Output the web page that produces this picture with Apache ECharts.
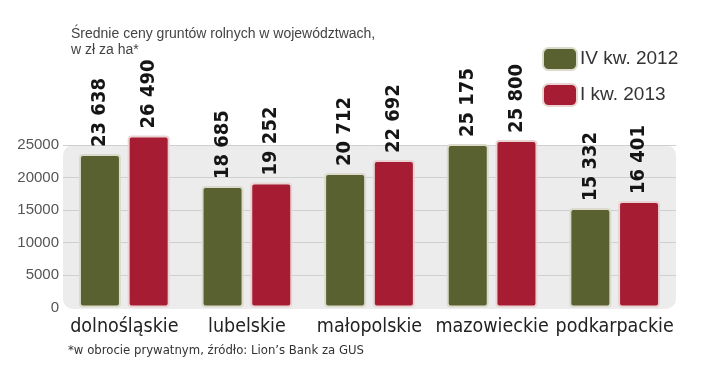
<!DOCTYPE html>
<html><head><meta charset="utf-8">
<script src="https://cdn.jsdelivr.net/npm/echarts@6/dist/echarts.min.js"></script>
<style>html,body{margin:0;padding:0;background:#fff}#c{width:720px;height:366px}</style>
</head><body><div id="c"></div>
<script>
var categories = ['dolnośląskie','lubelskie','małopolskie','mazowieckie','podkarpackie'];
var seriesNames = ['IV kw. 2012','I kw. 2013'];
var values2012 = [23638, 18685, 20712, 25175, 15332];
var values2013 = [26490, 19252, 22692, 25800, 16401];
var yTicks = [0, 5000, 10000, 15000, 20000, 25000];

var narrow = '"DejaVu Sans Condensed","Liberation Sans Narrow",sans-serif';
var GL = 63, GW = 613, GT = 112.6, GB = 58.5;
var chart = echarts.init(document.getElementById('c'));
function fmt(v){ return String(v).replace(/\B(?=(\d{3})+(?!\d))/g,' '); }
function mkSeries(name, data, color, border){
  return {
    name: name, type: 'bar', data: data, barWidth: 42, barGap: '16%',
    itemStyle: {color: color, borderColor: border, borderWidth: 2, borderRadius: 3},
    label: {show: true, position: 'top', rotate: 90, align: 'left', verticalAlign: 'middle', distance: 7,
      formatter: function(p){ return fmt(p.value); },
      fontFamily: narrow, fontWeight: 'bold', fontSize: 20, color: '#151515'},
    emphasis: {disabled: true}
  };
}
chart.setOption({
  animation: false,
  title: {text: 'Średnie ceny gruntów rolnych w województwach,\nw zł za ha*', left: 66, top: 21,
    textStyle: {fontFamily: 'Liberation Sans, sans-serif', fontWeight: 'normal', fontSize: 14, lineHeight: 16, color: '#444'}},
  legend: {orient: 'vertical', left: 537, top: 42, itemWidth: 34, itemHeight: 22, itemGap: 12,
    data: seriesNames,
    textStyle: {fontFamily: 'Liberation Sans, sans-serif', fontSize: 19, color: '#333', padding: [0,0,0,-2]}},
  grid: {left: GL, width: GW, top: GT, bottom: GB},
  graphic: [
    {type: 'rect', z: -10, shape: {x: GL, y: 145, width: GW, height: 164, r: 10},
     style: {fill: '#ececec'}},
    {type: 'text', left: 68, top: 344, style: {text: '*w obrocie prywatnym, źródło: Lion’s Bank za GUS',
      font: '13px ' + narrow, fill: '#333'}}
  ],
  xAxis: {type: 'category', data: categories,
    axisLine: {show: false}, axisTick: {show: false},
    axisLabel: {interval: 0, fontFamily: narrow, fontSize: 19.5, color: '#222', margin: 9}},
  yAxis: {type: 'value', min: 0, max: 30000, interval: 5000,
    axisLine: {show: false}, axisTick: {show: false},
    axisLabel: {fontFamily: 'Liberation Sans, sans-serif', fontSize: 15, color: '#555', margin: 4,
      showMaxLabel: false,
      formatter: function(v){ return yTicks.indexOf(v) >= 0 ? String(v) : ''; }},
    splitLine: {showMaxLine: false, showMinLine: false, lineStyle: {color: '#cfcfcf', width: 1}}},
  series: [
    mkSeries(seriesNames[0], values2012, '#5a6131', '#dcdacb'),
    mkSeries(seriesNames[1], values2013, '#a51c33', '#ead3d3')
  ]
});
</script></body></html>
